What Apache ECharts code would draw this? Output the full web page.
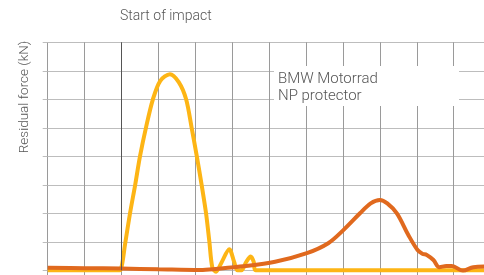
<!DOCTYPE html>
<html>
<head>
<meta charset="utf-8">
<script src="https://cdn.jsdelivr.net/npm/echarts@6/dist/echarts.min.js"></script>
<style>
  html, body { margin: 0; padding: 0; background: #fff; }
  #chart { width: 484px; height: 275px; }
</style>
</head>
<body>
<div id="chart"></div>
<script>
// x in grid columns (impact at 2), y in grid rows (kN, unlabeled)
const impactX = 2
const protectorLabel = 'BMW Motorrad\nNP protector'
const yellowForce = [
  [0, 0], [1, 0], [1.9, 0], [1.98, 0.02], [2.1, 0.95], [2.23, 2.0], [2.37, 3.0],
  [2.5, 4.0], [2.67, 5.05], [2.85, 6.0], [3.05, 6.65], [3.31, 6.88], [3.55, 6.6],
  [3.75, 6.0], [3.9, 5.0], [4.04, 4.0], [4.17, 3.0], [4.29, 2.0], [4.38, 1.0],
  [4.46, 0.1], [4.56, -0.05], [4.7, 0.25], [4.92, 0.74], [5.05, 0.3], [5.14, 0],
  [5.25, 0], [5.38, 0.3], [5.5, 0.48], [5.58, 0.3], [5.63, 0], [7, 0], [9, 0],
  [11.82, 0]
]
const orangeForce = [
  [0, 0.09], [1, 0.075], [1.99, 0.06], [3, 0.035], [4.13, 0.01], [4.48, 0.035],
  [5.21, 0.13], [6.16, 0.3], [7.02, 0.6], [7.6, 0.95], [8.01, 1.41], [8.46, 2.0],
  [8.75, 2.35], [9.0, 2.47], [9.2, 2.35], [9.46, 2.0], [9.77, 1.24], [10.02, 0.71],
  [10.15, 0.58], [10.27, 0.54], [10.45, 0.36], [10.61, 0.11], [10.8, 0.15],
  [10.95, 0.15], [11.25, -0.01], [11.53, 0.11], [11.82, 0.13]
]

const chart = echarts.init(document.getElementById('chart'))
chart.setOption({
  animation: false,
  textStyle: { fontFamily: 'Roboto, "Liberation Sans", sans-serif' },
  title: {
    text: 'Start of impact',
    left: 120,
    top: 9,
    padding: 0,
    textStyle: { color: '#555', fontSize: 14, fontWeight: 300 }
  },
  grid: { left: 47.7, top: 42.3, right: 0, bottom: 4.7 },
  xAxis: {
    type: 'value',
    min: 0,
    max: 11.82,
    interval: 1,
    axisLine: { show: false },
    axisLabel: { show: false },
    axisTick: { show: true, length: 5, lineStyle: { color: '#9a9a9a' } },
    splitLine: { show: true, lineStyle: { color: '#9a9a9a', width: 1 } }
  },
  yAxis: {
    type: 'value',
    min: 0,
    max: 8,
    interval: 1,
    axisLine: { show: false },
    axisLabel: { show: false },
    axisTick: { show: true, length: 5, lineStyle: { color: '#bdbdbd' } },
    splitLine: { show: true, lineStyle: { color: '#bdbdbd', width: 1 } }
  },
  graphic: [
    {
      type: 'text',
      x: 25,
      y: 97,
      rotation: Math.PI / 2,
      style: {
        text: 'Residual force (kN)',
        fill: '#555',
        font: '300 13.5px Roboto, "Liberation Sans", sans-serif',
        align: 'center',
        verticalAlign: 'middle'
      }
    },
    {
      type: 'rect',
      z: 100,
      shape: { x: 274, y: 66, width: 185, height: 40 },
      style: { fill: '#fff' }
    },
    {
      type: 'text',
      z: 101,
      x: 278,
      y: 71,
      style: {
        text: protectorLabel,
        fill: '#555',
        font: '300 15px Roboto, "Liberation Sans", sans-serif',
        lineHeight: 17
      }
    }
  ],
  series: [
    {
      name: 'Reference',
      type: 'line',
      data: yellowForce,
      smooth: 0.3,
      showSymbol: false,
      clip: false,
      lineStyle: { color: '#FDB515', width: 4 },
      markLine: {
        silent: true,
        symbol: 'none',
        label: { show: false },
        lineStyle: { color: '#555', width: 1, type: 'solid' },
        data: [{ xAxis: impactX }]
      },
      z: 3
    },
    {
      name: protectorLabel,
      type: 'line',
      data: orangeForce,
      smooth: 0.35,
      showSymbol: false,
      clip: false,
      lineStyle: { color: '#E0691E', width: 4 },
      z: 4
    }
  ]
})
</script>
</body>
</html>
